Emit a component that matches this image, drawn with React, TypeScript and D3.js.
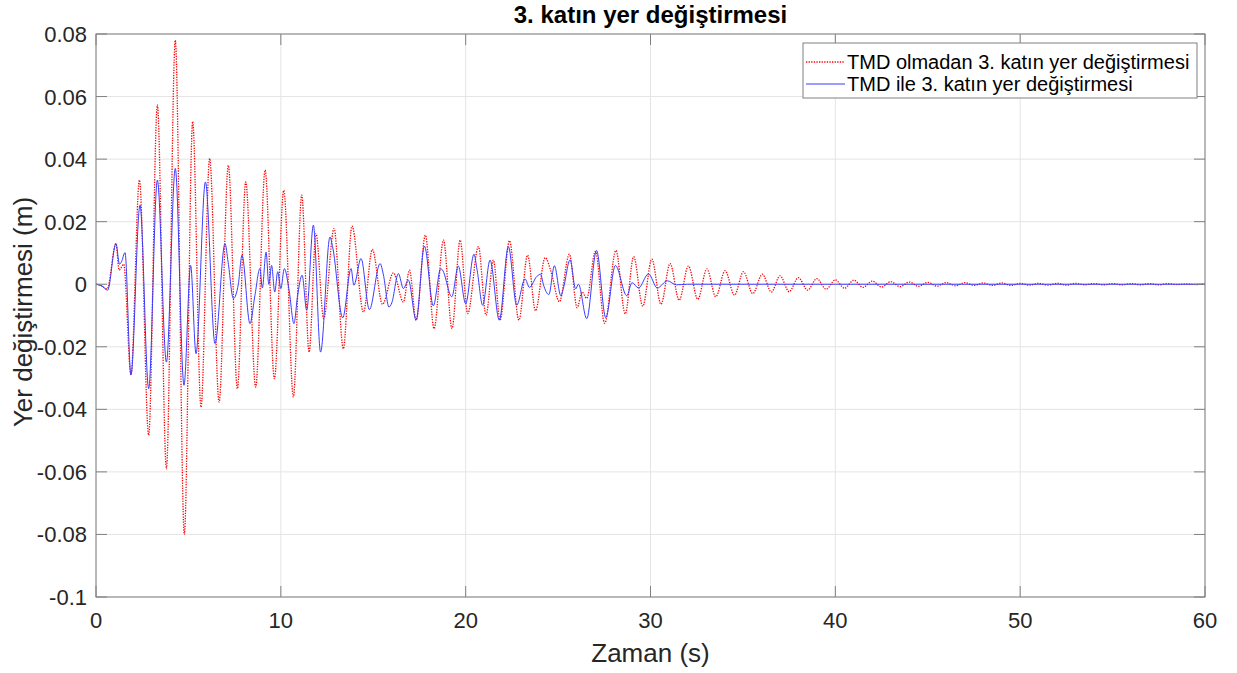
import React from "react";
import * as d3 from "d3";

// ---- data (extrema of each series) ----
const titleText = "3. katın yer değiştirmesi";
const xLabelText = "Zaman (s)";
const yLabelText = "Yer değiştirmesi (m)";
const legendLabels = ["TMD olmadan 3. katın yer değiştirmesi", "TMD ile 3. katın yer değiştirmesi"];

const xTicks = [0, 10, 20, 30, 40, 50, 60];
const yTicks = [0.08, 0.06, 0.04, 0.02, 0, -0.02, -0.04, -0.06, -0.08, -0.1];
const yTickLabels = ["0.08", "0.06", "0.04", "0.02", "0", "-0.02", "-0.04", "-0.06", "-0.08", "-0.1"];

// Without TMD (red dotted)
const withoutTmd: [number, number][] = [
  [0, 0], [0.3, -0.0005], [0.6, -0.0015], [1.08, 0.013], [1.25, 0.0045], [1.5, 0.0064],
  [1.89, -0.029], [2.35, 0.0333], [2.85, -0.0483], [3.32, 0.0573], [3.81, -0.059],
  [4.29, 0.078], [4.78, -0.08], [5.23, 0.052], [5.68, -0.0393], [6.15, 0.0402],
  [6.66, -0.0377], [7.16, 0.038], [7.65, -0.0334], [8.1, 0.0327], [8.64, -0.0329],
  [9.15, 0.0365], [9.65, -0.0302], [10.16, 0.03], [10.68, -0.036], [11.13, 0.0285],
  [11.53, -0.0217], [11.9, 0.0162], [12.32, -0.011], [12.88, 0.0178], [13.38, -0.0206],
  [13.85, 0.0186], [14.47, -0.0089], [14.95, 0.0111], [15.5, -0.0064], [16.09, 0.0036],
  [16.63, -0.0057], [16.96, 0.0045], [17.32, -0.0115], [17.82, 0.0157], [18.29, -0.0142],
  [18.8, 0.0141], [19.26, -0.0142], [19.7, 0.0141], [20.11, -0.0094], [20.69, 0.012],
  [21.1, -0.0099], [21.5, 0.0077], [21.86, -0.0115], [22.37, 0.0139], [22.88, -0.0115],
  [23.35, 0.0093], [23.78, -0.0085], [24.3, 0.0085], [24.62, 0.004], [25.07, -0.0056],
  [25.61, 0.0096], [26.03, -0.0075], [26.3, -0.0025], [26.55, -0.0045], [27.02, 0.0105],
  [27.52, -0.0125], [28.13, 0.0108], [28.63, -0.0095], [29.09, 0.0088], [29.58, -0.007],
  [30.07, 0.008], [30.57, -0.0064], [31.06, 0.0066], [31.55, -0.0051], [32.05, 0.0058],
  [32.56, -0.0048], [33.05, 0.0049], [33.53, -0.004], [34.04, 0.0043], [34.54, -0.0035],
  [35.03, 0.004], [35.53, -0.003], [36.05, 0.0032], [36.54, -0.0025], [37.01, 0.0027],
  [37.5, -0.0024], [38.0, 0.0021], [38.5, -0.0019], [39.0, 0.0018], [39.5, -0.0016],
  [40.0, 0.0014], [40.5, -0.0013], [41.0, 0.0013], [41.5, -0.001], [42.0, 0.001],
  [42.5, -0.0009], [43.0, 0.0008], [43.5, -0.0008], [44.0, 0.0007], [44.5, -0.0007],
  [45.0, 0.0006], [45.5, -0.0006], [46.0, 0.0005], [46.5, -0.0005], [47.0, 0.0005],
  [47.5, -0.0004], [48.0, 0.0004], [48.5, -0.0004], [49.0, 0.0004], [49.5, -0.0004],
  [50.0, 0.0003], [50.5, -0.0003], [51.0, 0.0003], [51.5, -0.0003], [52.0, 0.0003],
  [52.5, -0.0003], [53.0, 0.0003], [53.5, -0.0002], [54.0, 0.0002], [54.5, -0.0002],
  [55.0, 0.0002], [55.5, -0.0002], [56.0, 0.0002], [56.5, -0.0002], [57.0, 0.0002],
  [57.5, -0.0002], [58.0, 0.0002], [58.5, -0.0001], [59.0, 0.0001], [59.5, -0.0001],
  [60.0, 0.0001],
];

// With TMD (blue solid)
const withTmd: [number, number][] = [
  [0, 0], [0.3, -0.0005], [0.63, -0.0019], [1.08, 0.013], [1.27, 0.0064], [1.38, 0.0072],
  [1.57, 0.0101], [1.89, -0.029], [2.38, 0.0253], [2.85, -0.0334], [3.32, 0.0333],
  [3.81, -0.0249], [4.29, 0.037], [4.76, -0.0323], [5.12, 0.006], [5.41, -0.0222],
  [5.92, 0.0327], [6.44, -0.019], [6.98, 0.013], [7.15, 0.007], [7.43, -0.0046],
  [7.7, 0], [7.9, 0.0093], [8.33, -0.0126], [8.6, -0.0035], [8.87, 0.005], [9.0, -0.0012],
  [9.2, 0.0103], [9.35, 0], [9.5, 0.006], [9.67, -0.0025], [9.83, 0.004], [10.0, -0.0014],
  [10.19, 0.005], [10.45, -0.002], [10.71, -0.0126], [10.9, -0.004], [11.15, 0.0029],
  [11.4, -0.0083], [11.76, 0.0189], [12.15, -0.0217], [12.66, 0.0151], [12.8, 0.012],
  [13.35, -0.0107], [13.8, 0.005], [13.95, -0.0003], [14.34, 0.0082], [14.79, -0.0081],
  [15.37, 0.0066], [15.55, 0.003], [15.85, -0.0073], [16.0, -0.006], [16.36, 0.0034],
  [16.63, -0.0014], [16.9, 0.0013], [17.32, -0.0115], [17.77, 0.0122], [18.25, -0.0069],
  [18.65, 0.005], [18.75, 0.0045], [19.25, -0.004], [19.6, 0.0058], [20.0, -0.0062],
  [20.45, 0.0096], [20.62, 0.0045], [20.92, -0.0067], [21.32, 0.0077], [21.82, -0.0115],
  [22.31, 0.012], [22.76, -0.0067], [23.21, 0.0017], [23.45, -0.001], [23.85, 0.0025],
  [24.06, 0.0032], [24.2, 0], [24.5, -0.0033], [24.8, 0.0059], [25.15, -0.0037],
  [25.3, -0.001], [25.65, 0.0078], [25.95, -0.0015], [26.1, 0], [26.55, -0.011],
  [27.08, 0.0108], [27.58, -0.0107], [28.1, 0.006], [28.72, -0.0037], [29.0, 0.0005],
  [29.35, -0.0012], [29.89, 0.0033], [30.37, -0.0012], [30.91, 0.0011], [31.4, -0.0002],
  [32.0, 0], [40.0, 0], [50.0, 0], [60.0, 0],
];

// ---- layout ----
const W = 1237;
const H = 673;
const left = 96;
const right = 1205;
const top = 34;
const bottom = 597;
const FONT = "'Liberation Sans', Arial, Helvetica, sans-serif";

export default function App() {
  const x = d3.scaleLinear().domain([0, 60]).range([left, right]);
  const y = d3.scaleLinear().domain([-0.1, 0.08]).range([bottom, top]);
  const line = d3
    .line<[number, number]>()
    .x((d) => x(d[0]))
    .y((d) => y(d[1]))
    .curve(d3.curveMonotoneX);

  const tickLen = 11;
  const axisColor = "#808080";
  const gridColor = "#e4e4e4";
  const textColor = "#262626";

  return (
    <svg
      width={W}
      height={H}
      style={{ position: "absolute", left: 0, top: 0, background: "#fff" }}
      fontFamily={FONT}
    >
      <rect x={0} y={0} width={W} height={H} fill="#fff" />
      {/* grid */}
      {xTicks.map((t) => (
        <line key={"gx" + t} x1={x(t)} x2={x(t)} y1={top} y2={bottom} stroke={gridColor} strokeWidth={1} />
      ))}
      {yTicks.map((t) => (
        <line key={"gy" + t} x1={left} x2={right} y1={y(t)} y2={y(t)} stroke={gridColor} strokeWidth={1} />
      ))}

      <defs>
        <clipPath id="plotclip">
          <rect x={left} y={top} width={right - left} height={bottom - top} />
        </clipPath>
      </defs>

      <g clipPath="url(#plotclip)">
        <path d={line(withoutTmd) || ""} fill="none" stroke="#ff0000" strokeWidth={1.3} strokeDasharray="1.3 1.3" />
        <path d={line(withTmd) || ""} fill="none" stroke="#3b3bff" strokeWidth={1} />
      </g>

      {/* axes box */}
      <rect x={left} y={top} width={right - left} height={bottom - top} fill="none" stroke={axisColor} strokeWidth={1} />
      {xTicks.map((t) => (
        <g key={"tx" + t}>
          <line x1={x(t)} x2={x(t)} y1={bottom} y2={bottom - tickLen} stroke={axisColor} />
          <line x1={x(t)} x2={x(t)} y1={top} y2={top + tickLen} stroke={axisColor} />
          <text x={x(t)} y={628} textAnchor="middle" fontSize={22} fill={textColor}>
            {t}
          </text>
        </g>
      ))}
      {yTicks.map((t, i) => (
        <g key={"ty" + t}>
          <line x1={left} x2={left + tickLen} y1={y(t)} y2={y(t)} stroke={axisColor} />
          <line x1={right} x2={right - tickLen} y1={y(t)} y2={y(t)} stroke={axisColor} />
          <text x={87} y={y(t) + 8} textAnchor="end" fontSize={22} fill={textColor}>
            {yTickLabels[i]}
          </text>
        </g>
      ))}

      {/* title & labels */}
      <text x={(left + right) / 2} y={23} textAnchor="middle" fontSize={24} fontWeight="bold" fill="#000">
        {titleText}
      </text>
      <text x={(left + right) / 2} y={662} textAnchor="middle" fontSize={26} fill={textColor}>
        {xLabelText}
      </text>
      <text transform={`translate(32, 312) rotate(-90)`} textAnchor="middle" fontSize={26} fill={textColor}>
        {yLabelText}
      </text>

      {/* legend */}
      <g>
        <rect x={803} y={43} width={394} height={55} fill="#fff" stroke={axisColor} strokeWidth={1} />
        <line x1={806} x2={845} y1={62} y2={62} stroke="#ff0000" strokeWidth={1.3} strokeDasharray="1.3 1.3" />
        <text x={847} y={69} fontSize={20} fill="#000">
          {legendLabels[0]}
        </text>
        <line x1={806} x2={845} y1={84} y2={84} stroke="#3b3bff" strokeWidth={1} />
        <text x={847} y={91} fontSize={20} fill="#000">
          {legendLabels[1]}
        </text>
      </g>
    </svg>
  );
}
